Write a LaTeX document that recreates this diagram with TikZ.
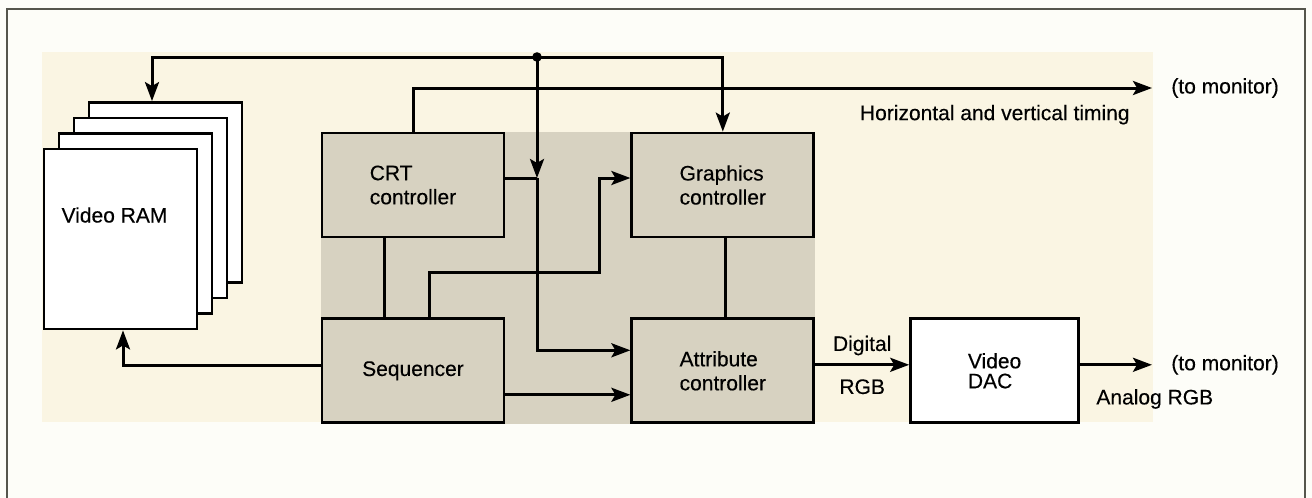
\documentclass[tikz,border=0pt]{standalone}
\usepackage{fontspec}
\setmainfont{Liberation Sans}[FakeBold=0.3]
\usetikzlibrary{arrows.meta,positioning,calc,backgrounds}

\definecolor{paper}{HTML}{FDFDF8}
\definecolor{cream}{HTML}{FAF5E3}
\definecolor{boxgray}{HTML}{D7D2C1}
\definecolor{framegray}{HTML}{55554C}

\begin{document}
\begin{tikzpicture}[
  x=0.5pt, y=-0.5pt,
  font=\fontsize{10.5pt}{12pt}\selectfont,
  ctrl/.style={draw,line width=1.4pt,fill=boxgray,align=left,minimum width=91pt,minimum height=52pt,inner sep=0pt},
  page/.style={draw,line width=1.4pt,fill=white,minimum width=76.5pt,minimum height=90pt},
  dacbox/.style={draw,line width=1.4pt,fill=white,align=left,minimum width=84pt,minimum height=52pt,inner sep=0pt,font=\fontsize{10.5pt}{10pt}\selectfont},
  lbl/.style={inner sep=0pt},
  monitor/.style={anchor=west,inner xsep=9.5pt,inner ysep=0pt},
  wire/.style={line width=1.5pt},
  arrow/.style={wire,-{Stealth[length=9.5pt,width=7pt,inset=2pt]}},
  node distance=39.5pt and 62.5pt
]
\useasboundingbox (0,0) rectangle (1312,498);
\draw[framegray,line width=1pt] (7,498) -- (7,9) -- (1305,9) -- (1305,498);

% video memory planes, back to front
\foreach \i in {3,2,1}
  \node[page] (ram\i) at (120.5+15*\i,239-15.5*\i) {};
\node[page,label={[name=ramtext,yshift=12pt,xshift=-3pt]center:Video RAM}] (ram) at (120.5,239) {};

\node[ctrl] (crt) at (413,185) {CRT\\controller};
\node[ctrl,below=of crt] (seq) {Sequencer};
\node[ctrl,right=of crt] (gfx) {Graphics\\controller};
\node[ctrl,below=of gfx] (attr) {Attribute\\controller};
\node[dacbox,right=47pt of attr] (dac) {Video\\DAC};

\begin{scope}[on background layer]
  \fill[paper] (0,0) rectangle (1312,498);
  \fill[cream] (42,52) rectangle (1153,422);
  \fill[boxgray] (crt.north west) rectangle (attr.south east);
\end{scope}

% data bus
\coordinate (bus) at (537,57);
\coordinate (crtout) at ($(bus |- crt.east)+(0,-7)$);
\draw[arrow] (bus) -| ([xshift=-6.75pt]ram3.north);
\draw[arrow] (bus) -| (gfx.north);
\draw[arrow] (bus) -- (crtout);
\draw[wire] ($(crt.east)+(0,-7)$) -- (crtout);
\draw[arrow] (crtout) |- ($(attr.west)+(0,-20.5)$);
\fill (bus) circle (2.4pt);

% timing
\node[monitor] (mon1) at (1152,88) {(to monitor)};
\draw[arrow] (crt.north) |- (mon1.west);
\node[lbl,anchor=north east] (timing) at ($(mon1.west)+(-22,16.5)$) {Horizontal and vertical timing};

\draw[wire] ($(crt.south)+(-29,0)$) -- ($(seq.north)+(-29,0)$);
\draw[arrow] ($(seq.north)+(16.5,0)$) -- ++(0,-45) -| ($(gfx.west)+(-31,-7)$) -- ($(gfx.west)+(0,-7)$);
\draw[arrow] ($(seq.east)+(0,24)$) -- ($(attr.west)+(0,24)$);
\draw[arrow] ($(seq.west)+(0,-5)$) -| ($(ram.south)+(2.5,0)$);
\draw[wire] ($(gfx.south)+(2.5,0)$) -- ($(attr.north)+(2.5,0)$);

% video output
\draw[arrow] ($(attr.east)+(0,-6)$) -- node[lbl,above=4pt] (digital) {Digital} node[lbl,below=6.5pt] (rgb) {RGB} ($(dac.west)+(0,-6)$);
\node[monitor] (mon2) at ($(dac.east -| mon1.west)+(0,-6)$) {(to monitor)};
\draw[arrow] ($(dac.east)+(0,-6)$) -- (mon2.west);
\node[lbl,anchor=north west] (analog) at ($(dac.east)+(16,18)$) {Analog RGB};
\end{tikzpicture}
\end{document}
